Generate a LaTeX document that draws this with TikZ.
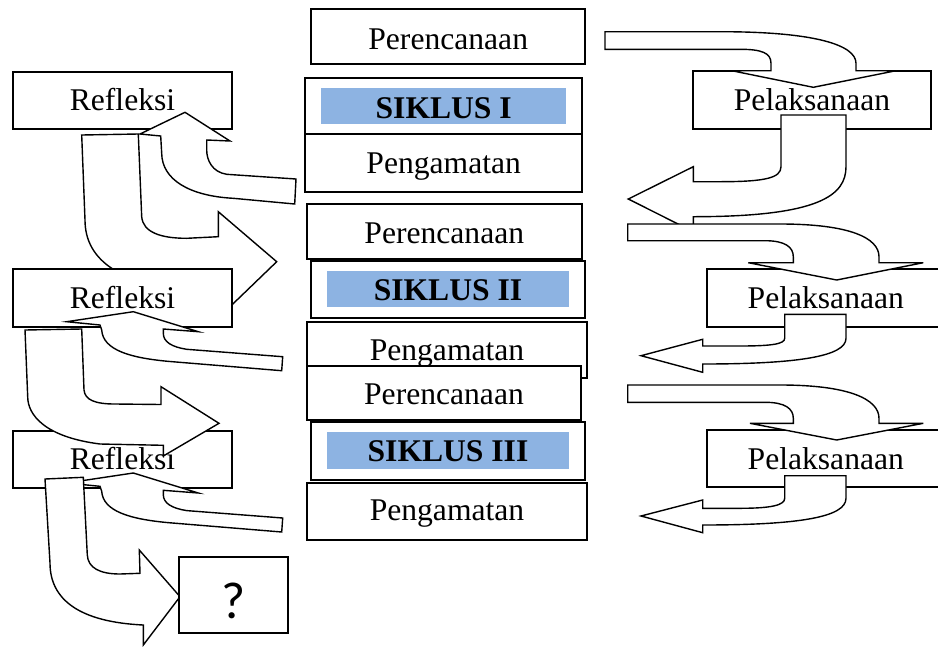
\documentclass[tikz,border=0pt]{standalone}
\usepackage{fontspec}
\setmainfont{Liberation Serif}
\newfontfamily\qfont{Carlito}
\definecolor{sikblue}{HTML}{8DB3E2}
\tikzset{
  box/.style={draw, line width=1.8pt, fill=white, inner sep=0pt, outer sep=0pt},
  lbl/.style={anchor=base, inner sep=0pt, outer sep=0pt, font=\fontsize{31.6}{36}\selectfont},
  siklbl/.style={lbl, font=\fontsize{31.6}{36}\selectfont\bfseries},
  band/.style={fill=sikblue, inner sep=0pt, outer sep=0pt},
  blk/.style={draw, fill=white, line width=1.4pt, line join=miter},
}
\begin{document}
\begin{tikzpicture}[x=1pt,y=-1pt]
\useasboundingbox (0,0) rectangle (938,646);
\clip (0,0) rectangle (938,646);
% ---------- centre column ----------
\node[box, minimum width=274.3pt, minimum height=54.7pt] (per1) at (448.2,36.7) {};
\node[lbl] (tper1) at (448.2,49.3) {Perencanaan};
\node[box, minimum width=276.7pt, minimum height=56.6pt] (sik1) at (443.7,106) {};
\node[band, minimum width=244.7pt, minimum height=36pt] (band1) at (443.7,106.3) {};
\node[siklbl] (tsik1) at (443.7,118.3) {SIKLUS I};
\node[box, minimum width=276.7pt, minimum height=57.4pt] (pen1) at (443.7,163) {};
\node[lbl] (tpen1) at (443.7,173.3) {Pengamatan};
\node[box, minimum width=275.3pt, minimum height=54.7pt] (per2) at (444.3,231.3) {};
\node[lbl] (tper2) at (444.3,243.3) {Perencanaan};
\node[box, minimum width=274pt, minimum height=57.3pt] (sik2) at (447.7,289.7) {};
\node[band, minimum width=242pt, minimum height=36.3pt] (band2) at (448.3,289.2) {};
\node[siklbl] (tsik2) at (448,300.7) {SIKLUS II};
\node[box, minimum width=279.4pt, minimum height=56.6pt] (pen2) at (447,350) {};
\node[lbl] (tpen2) at (447,360) {Pengamatan};
\node[box, minimum width=274.6pt, minimum height=54.3pt] (per3) at (444,392.8) {};
\node[lbl] (tper3) at (444,404) {Perencanaan};
\node[box, minimum width=274pt, minimum height=57.4pt] (sik3) at (447.7,451) {};
\node[band, minimum width=242pt, minimum height=36.7pt] (band3) at (448.3,450.7) {};
\node[siklbl] (tsik3) at (448,461.7) {SIKLUS III};
\node[box, minimum width=279.4pt, minimum height=57.3pt] (pen3) at (447,511.3) {};
\node[lbl] (tpen3) at (447,520) {Pengamatan};
% ---------- right column ----------
\node[box, minimum width=238.6pt, minimum height=57.4pt] (pel1) at (812,100) {};
\node[lbl] (tpel1) at (812,110) {Pelaksanaan};
\node[box, minimum width=238.3pt, minimum height=57.4pt] (pel2) at (825.8,298) {};
\node[lbl] (tpel2) at (825.8,308.3) {Pelaksanaan};
\node[box, minimum width=238.3pt, minimum height=57.3pt] (pel3) at (825.8,458.7) {};
\node[lbl] (tpel3) at (825.8,469.3) {Pelaksanaan};
% A: Perencanaan I -> Pelaksanaan I
\draw[blk] (605,31.7) -- (720,31.7) .. controls (815,31.7) and (856,45) .. (856,63.3)
  -- (856,70.7) -- (896,70.7) -- (813.3,87.3) -- (731.7,70.7) -- (771,70.7) -- (771,63.3)
  .. controls (771,53) and (762,49.3) .. (740,49.3) -- (605,49.3) -- cycle;
% B: Pelaksanaan I -> Pengamatan I
\draw[blk] (781,115) -- (846,115) -- (846,166.7) .. controls (846,195) and (820,216.7) .. (693.3,216.7)
  -- (693.3,231.7) -- (628.3,199) -- (693.3,166.7) -- (693.3,181.7) -- (720,181.7)
  .. controls (765,181.7) and (781,178) .. (781,166.7) -- cycle;
% C: Perencanaan II -> Pelaksanaan II
\draw[blk] (627.7,224) -- (780,224) .. controls (850,224) and (879,238) .. (879,256.7)
  -- (879,262.7) -- (923.3,262.7) -- (836.7,280) -- (748.3,262.7) -- (793.3,262.7) -- (793.3,256.7)
  .. controls (793.3,247) and (785,240.7) .. (765,240.7) -- (627.7,240.7) -- cycle;
% D: Pelaksanaan II -> Pengamatan II
\draw[blk] (784.7,314.3) -- (846,314.3) -- (846,338.3) .. controls (846,356) and (800,364) .. (702.7,364)
  -- (702.7,372.3) -- (641,355.7) -- (702.7,339.3) -- (702.7,346) -- (740,346)
  .. controls (772,346) and (784.7,344) .. (784.7,338.3) -- cycle;
% E: Perencanaan III -> Pelaksanaan III
\draw[blk] (627.7,385) -- (780,385) .. controls (850,385) and (879,399.5) .. (879,418.3)
  -- (879,423.3) -- (923.3,423.3) -- (836.7,440) -- (750,423.3) -- (793.3,423.3) -- (793.3,418.3)
  .. controls (793.3,408.5) and (785,402.3) .. (765,402.3) -- (627.7,402.3) -- cycle;
% F: Pelaksanaan III -> Pengamatan III
\draw[blk] (784.7,475.7) -- (846,475.7) -- (846,498.3) .. controls (846,517) and (800,525) .. (702.7,525)
  -- (702.7,532.7) -- (641,516) -- (702.7,500) -- (702.7,508.3) -- (740,508.3)
  .. controls (772,508.3) and (784.7,505) .. (784.7,498.3) -- cycle;
% ---------- left column ----------
\node[box, minimum width=218.4pt, minimum height=57.6pt] (ref1) at (122.5,100.5) {};
\node[lbl] (tref1) at (122.5,110.7) {Refleksi};
% G: Pengamatan I -> Refleksi I
\draw[blk] (296,179) -- (226.7,174.3) .. controls (212,172) and (206.7,160) .. (206.7,150)
  -- (206.7,140) -- (230,141) -- (185,112.3) -- (140,134) -- (160.7,136) -- (161.7,153.3)
  .. controls (162,180) and (190,196) .. (233.3,198.3) -- (294.7,204) -- cycle;
% H: Refleksi I -> Perencanaan II
\draw[blk] (81.7,135) -- (138.3,134) -- (141.7,216.7) .. controls (143,232) and (160,238.3) .. (186.7,238.3)
  -- (218.3,236.7) -- (218.3,211.7) -- (276.7,261.7) -- (218.3,318) -- (218.3,292)
  .. controls (120,290) and (85,260) .. (85,220) -- cycle;
\node[box, minimum width=218.4pt, minimum height=57.4pt] (ref2) at (122.5,298) {};
\node[lbl] (tref2) at (122.5,308.3) {Refleksi};
% I: Pengamatan II -> Refleksi II
\draw[blk] (282.7,356.7) -- (186.7,349.3) .. controls (172,347) and (163.3,342) .. (163.3,333.3)
  -- (163.3,329) -- (198.3,331.7) -- (133.3,311.7) -- (66.7,321.7) -- (100,325) -- (101.7,330)
  .. controls (103,350) and (130,358) .. (170,361.5) -- (281.7,370.7) -- cycle;
\node[box, minimum width=218.4pt, minimum height=57.6pt] (ref3) at (122.5,459.5) {};
\node[lbl] (tref3) at (122.5,469.3) {Refleksi};
% J: Refleksi II -> Perencanaan III
\draw[blk] (25,330) -- (81.7,329) -- (84,390) .. controls (85,400) and (95,404) .. (115,404)
  -- (161,404.5) -- (161,386.7) -- (219,423.3) -- (163.3,456) -- (163.3,445.3) -- (100,444)
  .. controls (45,437) and (27.7,415) .. (27.7,396.7) -- cycle;
% K: Pengamatan III -> Refleksi III
\draw[blk] (282.7,518) -- (186.7,510.6) .. controls (172,508.3) and (163.3,503.3) .. (163.3,494.6)
  -- (163.3,490.3) -- (198.3,493) -- (133.3,473) -- (66.7,483) -- (100,486.3) -- (101.7,491.3)
  .. controls (103,511.3) and (130,519.3) .. (170,522.8) -- (281.7,532) -- cycle;
% L: Refleksi III -> ?
\draw[blk] (45,479) -- (83.3,477.3) -- (87.3,555) .. controls (88,568) and (100,574) .. (120,574)
  -- (140,573.3) -- (139.3,550) -- (180,596.7) -- (143.3,645) -- (143.3,625)
  .. controls (80,622) and (50,600) .. (50,563) -- cycle;
\node[box, minimum width=109pt, minimum height=75.4pt] (q) at (233.5,595) {};
\node[anchor=base, inner sep=0pt, font=\qfont\fontsize{52}{60}\selectfont] (tq) at (233.5,618.3) {?};
\end{tikzpicture}
\end{document}
